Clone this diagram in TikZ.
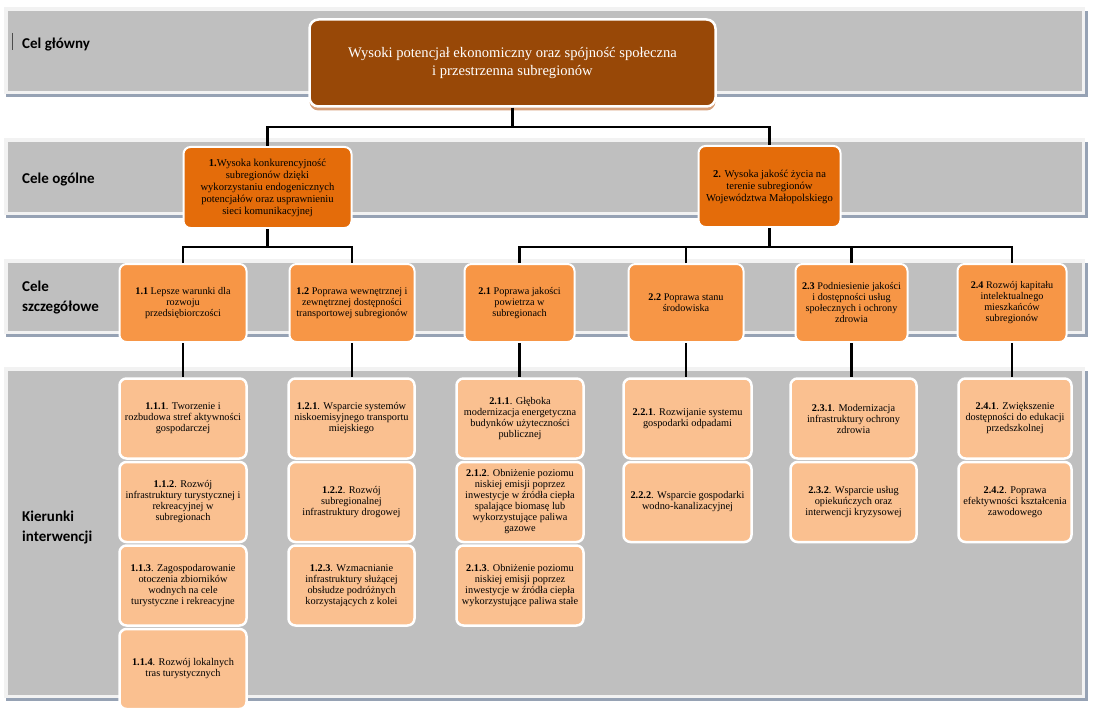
\documentclass[tikz,border=0pt]{standalone}
\usepackage{fontspec}
\setmainfont{Liberation Serif}
\newfontfamily\labelfont{Carlito}
\usetikzlibrary{shadows}
\definecolor{bandgray}{RGB}{191,191,191}
\definecolor{bandedge}{RGB}{242,242,242}
\definecolor{bandshadow}{RGB}{150,162,180}
\definecolor{brownmain}{RGB}{152,72,7}
\definecolor{brownshadow}{RGB}{214,160,122}
\definecolor{orangedark}{RGB}{228,108,10}
\definecolor{orangemid}{RGB}{247,150,70}
\definecolor{orangelight}{RGB}{250,192,144}
% one gray band of the table, from y=#1 down to y=#2
\newcommand{\drawBand}[2]{%
  \fill[bandshadow] (6,#1) rectangle (1088,#2+6);
  \fill[bandedge] (4,#1-4) rectangle (1085,#2+3);
  \fill[bandgray] (8,#1) rectangle (1082,#2);}

\begin{document}
\begin{tikzpicture}[x=1pt,y=-1pt,
    mainbox/.style={draw=white, line width=2.5pt, rounded corners=9pt, fill=brownmain,
      text=white, align=center, font=\fontsize{14.6}{18}\selectfont,
      minimum width=406pt, minimum height=87pt,
      drop shadow={shadow xshift=0pt, shadow yshift=-4pt, fill=brownshadow, opacity=1}},
    goalbox/.style={draw=white, line width=2pt, rounded corners=7pt, fill=orangedark,
      align=center, inner sep=2pt, minimum height=81pt, font=\fontsize{10.6}{12}\selectfont},
    aimbox/.style={draw=white, line width=2pt, rounded corners=7pt, fill=orangemid,
      align=center, inner sep=2pt, minimum height=78pt, font=\fontsize{10.2}{11}\selectfont},
    dirbox/.style={draw=white, line width=2.5pt, rounded corners=7pt, fill=orangelight,
      align=center, inner sep=2pt, minimum height=80pt, font=\fontsize{10.3}{11}\selectfont},
    rowlabel/.style={anchor=west, align=left, inner sep=0pt,
      font=\labelfont\bfseries\fontsize{15}{20}\selectfont},
    conn/.style={line width=2.6pt, black}]

  \useasboundingbox (0,0) rectangle (1094,714);

  % the four rows of the table
  \drawBand{11}{91}
  \drawBand{142}{212}
  \drawBand{263}{331}
  \drawBand{371}{695}
  \draw[line width=0.6pt, black!70] (12,33) -- (12,50);

  \node[rowlabel] (lab1) at (22,45) {Cel główny};
  \node[rowlabel] (lab2) at (22,180) {Cele ogólne};
  \node[rowlabel] (lab3) at (22,298) {Cele\\szczegółowe};
  \node[rowlabel] (lab4) at (22,527) {Kierunki\\interwencji};

  % main goal
  \node[mainbox] (main) at (512.5,63) {Wysoki potencjał ekonomiczny oraz spójność społeczna\\i przestrzenna subregionów};

  % general goals
  \node[goalbox, minimum width=168pt] (g1) at (267.5,187.5) {\textbf{1.}Wysoka konkurencyjność\\subregionów dzięki\\wykorzystaniu endogenicznych\\potencjałów oraz usprawnieniu\\sieci komunikacyjnej};
  \node[goalbox, minimum width=142pt] (g2) at (769.5,186.5) {\textbf{2.} Wysoka jakość życia na\\terenie subregionów\\Województwa Małopolskiego};

  % specific goals
  \node[aimbox, minimum width=127pt] (s11) at (183,303) {\textbf{1.1} Lepsze warunki dla\\rozwoju\\przedsiębiorczości};
  \node[aimbox, minimum width=125pt] (s12) at (352,303) {\textbf{1.2} Poprawa wewnętrznej i\\zewnętrznej dostępności\\transportowej subregionów};
  \node[aimbox, minimum width=110pt] (s21) at (519.5,303) {\textbf{2.1} Poprawa jakości\\powietrza w\\subregionach};
  \node[aimbox, minimum width=115pt] (s22) at (686,303) {\textbf{2.2} Poprawa stanu\\środowiska};
  \node[aimbox, minimum width=112pt] (s23) at (851.5,303) {\textbf{2.3} Podniesienie jakości\\i dostępności usług\\społecznych i ochrony\\zdrowia};
  \node[aimbox, minimum width=109pt] (s24) at (1012,303) {\textbf{2.4} Rozwój kapitału\\intelektualnego\\mieszkańców\\subregionów};

  % directions of intervention
  \node[dirbox, minimum width=127pt] (d111) at (183,418.5) {\textbf{1.1.1}. Tworzenie i\\rozbudowa stref aktywności\\gospodarczej};
  \node[dirbox, minimum width=127pt] (d112) at (183,502) {\textbf{1.1.2}. Rozwój\\infrastruktury turystycznej i\\rekreacyjnej w\\subregionach};
  \node[dirbox, minimum width=127pt] (d113) at (183,585.5) {\textbf{1.1.3}. Zagospodarowanie\\otoczenia zbiorników\\wodnych na cele\\turystyczne i rekreacyjne};
  \node[dirbox, minimum width=127pt] (d114) at (183,669) {\textbf{1.1.4}. Rozwój lokalnych\\tras turystycznych};

  \node[dirbox, minimum width=126pt] (d121) at (351.5,418.5) {\textbf{1.2.1}. Wsparcie systemów\\niskoemisyjnego transportu\\miejskiego};
  \node[dirbox, minimum width=126pt] (d122) at (351.5,502) {\textbf{1.2.2}. Rozwój\\subregionalnej\\infrastruktury drogowej};
  \node[dirbox, minimum width=126pt] (d123) at (351.5,585.5) {\textbf{1.2.3}. Wzmacnianie\\infrastruktury służącej\\obsłudze podróżnych\\korzystających z kolei};

  \node[dirbox, minimum width=127pt] (d211) at (520,418.5) {\textbf{2.1.1}. Głęboka\\modernizacja energetyczna\\budynków użyteczności\\publicznej};
  \node[dirbox, minimum width=127pt] (d212) at (520,502) {\textbf{2.1.2}. Obniżenie poziomu\\niskiej emisji poprzez\\inwestycje w źródła ciepła\\spalające biomasę lub\\wykorzystujące paliwa\\gazowe};
  \node[dirbox, minimum width=127pt] (d213) at (520,585.5) {\textbf{2.1.3}. Obniżenie poziomu\\niskiej emisji poprzez\\inwestycje w źródła ciepła\\wykorzystujące paliwa stałe};

  \node[dirbox, minimum width=128pt] (d221) at (687.5,418.5) {\textbf{2.2.1}. Rozwijanie systemu\\gospodarki odpadami};
  \node[dirbox, minimum width=128pt] (d222) at (687.5,502) {\textbf{2.2.2}. Wsparcie gospodarki\\wodno-kanalizacyjnej};

  \node[dirbox, minimum width=126pt] (d231) at (853.5,418.5) {\textbf{2.3.1}. Modernizacja\\infrastruktury ochrony\\zdrowia};
  \node[dirbox, minimum width=126pt] (d232) at (853.5,502) {\textbf{2.3.2}. Wsparcie usług\\opiekuńczych oraz\\interwencji kryzysowej};

  \node[dirbox, minimum width=113pt] (d241) at (1015,418.5) {\textbf{2.4.1}. Zwiększenie\\dostępności do edukacji\\przedszkolnej};
  \node[dirbox, minimum width=113pt] (d242) at (1015,502) {\textbf{2.4.2}. Poprawa\\efektywności kształcenia\\zawodowego};

  % tree lines
  \draw[conn] (main.south) -- (main.south |- 0,127);
  \draw[conn] (g1.north) |- (g2.north |- 0,127) -- (g2.north);

  \draw[conn] (g1.south) -- (g1.south |- 0,247);
  \draw[conn] (s11.north) |- (s12.north |- 0,247) -- (s12.north);
  \draw[conn] (g2.south) -- (g2.south |- 0,247);
  \draw[conn] (s21.north) |- (s24.north |- 0,247) -- (s24.north);
  \draw[conn] (s22.north) -- (s22.north |- 0,247);
  \draw[conn] (s23.north) -- (s23.north |- 0,247);

  \draw[conn] (s11.south) -- (s11.south |- d111.north);
  \draw[conn] (s12.south) -- (s12.south |- d121.north);
  \draw[conn] (s21.south) -- (s21.south |- d211.north);
  \draw[conn] (s22.south) -- (s22.south |- d221.north);
  \draw[conn] (s23.south) -- (s23.south |- d231.north);
  \draw[conn] (s24.south) -- (s24.south |- d241.north);

\end{tikzpicture}
\end{document}
